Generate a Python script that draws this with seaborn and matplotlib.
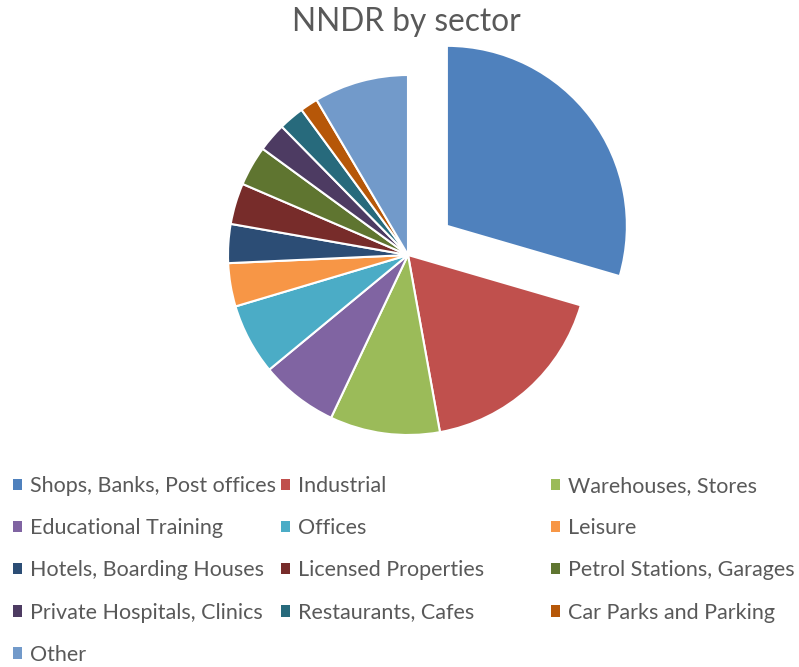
import matplotlib
matplotlib.use("Agg")
import matplotlib.pyplot as plt
import seaborn as sns
from matplotlib.patches import Patch

sns.set_style("white")
plt.rcParams['font.family'] = ['Lato', 'DejaVu Sans']

# sectors and their share of NNDR (%)
sectors = ["Shops, Banks, Post offices", "Industrial", "Warehouses, Stores",
           "Educational Training", "Offices", "Leisure",
           "Hotels, Boarding Houses", "Licensed Properties", "Petrol Stations, Garages",
           "Private Hospitals, Clinics", "Restaurants, Cafes", "Car Parks and Parking",
           "Other"]
shares = [29.6, 17.7, 9.9, 7.0, 6.4, 3.9, 3.5, 3.7, 3.6, 2.6, 2.3, 1.6, 8.5]
colours = ["#4F81BD", "#C0504D", "#9BBB59", "#8064A2", "#4BACC6", "#F79646",
           "#2C4D75", "#772C2A", "#5F7530", "#4D3B62", "#276A7C", "#B65708",
           "#729ACA"]
explode = [0.27] + [0] * (len(shares) - 1)

W, H = 799, 667
fig = plt.figure(figsize=(W / 100, H / 100), dpi=100)

# pie centred at (408, 255) px with radius 180 px
cx, cy, r = 408, 255, 180
half = 240
ax = fig.add_axes([(cx - half) / W, (H - cy - half) / H, 2 * half / W, 2 * half / H])
ax.pie(shares, colors=colours, explode=explode, startangle=90, counterclock=False,
       radius=1, wedgeprops=dict(edgecolor="white", linewidth=1.5))
ax.set_xlim(-half / r, half / r)
ax.set_ylim(-half / r, half / r)
ax.set_aspect("equal")
ax.axis("off")

fig.text(406 / W, 1 - 22 / H, "NNDR by sector", ha="center", va="center",
         fontsize=22.8, color="#595959")

# legend: three columns, filled row by row
col_x = [13, 281, 551]
for c in range(3):
    idx = list(range(c, len(sectors), 3))
    handles = [Patch(facecolor=colours[i], edgecolor="none") for i in idx]
    labels = [sectors[i] for i in idx]
    fig.legend(handles, labels, loc="upper left",
               bbox_to_anchor=(col_x[c] / W, 1 - 476 / H), frameon=False,
               fontsize=15.5, labelcolor="#595959", handlelength=0.44,
               handleheight=0.44, handletextpad=0.37, labelspacing=1.03,
               borderaxespad=0, borderpad=0)

fig.savefig("out.png", dpi=100)
